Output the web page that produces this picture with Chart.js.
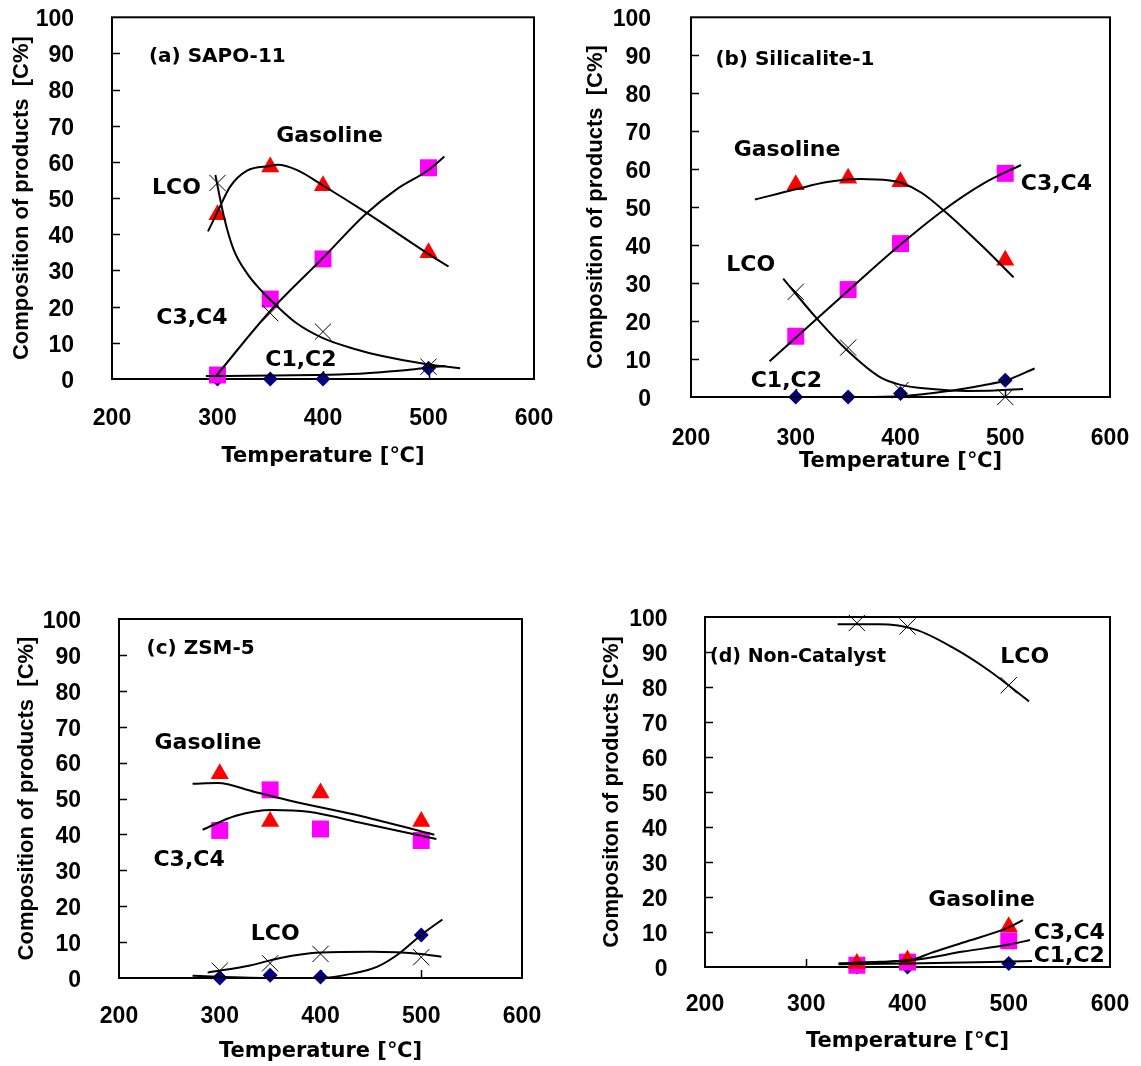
<!DOCTYPE html>
<html>
<head>
<meta charset="utf-8">
<script src="https://cdn.jsdelivr.net/npm/chart.js@4.4.1/dist/chart.umd.min.js"></script>
<style>
  html, body { margin: 0; padding: 0; background: #fff; }
  body { width: 1141px; height: 1066px; position: relative; overflow: hidden; }
  canvas { position: absolute; }
</style>
</head>
<body>
<canvas id="chartA" width="570" height="500" style="left:0;top:0"></canvas>
<canvas id="chartB" width="571" height="500" style="left:570px;top:0"></canvas>
<canvas id="chartC" width="570" height="486" style="left:0;top:580px"></canvas>
<canvas id="chartD" width="571" height="486" style="left:570px;top:580px"></canvas>
<script>
// temperatures of the runs
const temps = [300, 350, 400, 500];
const tempsNoCat = [350, 400, 500];

// (a) SAPO-11
const aGasoline = [45.4, 58.6, 53.4, 34.9];
const aC3C4 = [1.1, 22.1, 33.2, 58.4];
const aLCO = [54.2, 18.2, 13.1, 3.4];
const aC1C2 = [0, 0, 0, 3.0];
const aGasolineFit = [[291, 40.8], [300, 46.2], [312, 53.2], [328, 57.6], [350, 58.9], [357, 59.2], [375, 57.8], [400, 53.5], [440, 46.2], [502, 34.2], [519, 31.1]];
const aC3C4Fit = [[298, 0.6], [350, 18.8], [400, 33.5], [440, 45.5], [470, 52.5], [500, 57.8], [515, 61.5]];
const aLCOFit = [[298, 56.4], [306, 45], [315, 36], [328, 29.2], [341, 24.6], [355, 20.5], [375, 15.4], [400, 11.3], [430, 8.3], [455, 6.4], [500, 4], [530, 3]];
const aC1C2Fit = [[289, 0.8], [350, 1.0], [420, 1.3], [455, 1.9], [480, 2.5], [500, 3.2], [516, 3.6]];

// (b) Silicalite-1
const bGasoline = [55.9, 57.6, 56.7, 36.0];
const bC3C4 = [16.0, 28.3, 40.4, 58.9];
const bLCO = [27.7, 13.0, 1.8, 0];
const bC1C2 = [0, 0, 0.9, 4.4];
const bGasolineFit = [[261, 52], [300, 54.7], [330, 56.6], [362, 57.4], [390, 57], [400, 56.5], [420, 53.8], [441, 49.2], [479, 39.5], [508, 31.5]];
const bC3C4Fit = [[275, 9.4], [300, 15.6], [350, 28], [395, 39], [441, 49.2], [479, 56.2], [515, 61.1]];
const bLCOFit = [[288, 31.2], [320, 20.7], [349, 12.3], [380, 5.3], [400, 3.2], [430, 2.1], [463, 1.6], [490, 1.7], [517, 2.1]];
const bC1C2Fit = [[274, 0], [350, 0], [400, 0.2], [447, 1.6], [479, 3.1], [501, 4.4], [528, 7.5]];

// (c) ZSM-5
const cGasoline = [56.9, 43.6, 51.5, 43.6];
const cC3C4 = [41.1, 52.4, 41.5, 38.3];
const cLCO = [2.0, 4.1, 6.7, 5.8];
const cC1C2 = [0, 0.8, 0.3, 12.0];
const cGasolineFit = [[273, 54.1], [298, 54.3], [334, 51.9], [370, 49.4], [442, 45], [513, 39.9]];
const cC3C4Fit = [[283, 41.3], [316, 45.2], [352, 46.8], [388, 46.3], [442, 43.1], [515, 38.7]];
const cLCOFit = [[288, 1.5], [330, 3.5], [360, 5.6], [400, 7.1], [450, 7.3], [500, 6.7], [520, 5.9]];
const cC1C2Fit = [[273, 0.6], [330, 0.1], [400, 0], [433, 1.3], [456, 3.1], [476, 6.4], [500, 12], [521, 16.3]];

// (d) Non-Catalyst
const dGasoline = [1.0, 2.0, 11.5];
const dC3C4 = [0.5, 1.4, 7.5];
const dLCO = [98.3, 97.3, 80.5];
const dC1C2 = [0, 0, 1.0];
const dGasolineFit = [[332, 1.0], [373, 1.5], [406, 2.2], [422, 3.9], [455, 7.0], [500, 11.3], [514, 13.4]];
const dC3C4Fit = [[332, 1.0], [406, 2.0], [455, 4.4], [500, 6.4], [521, 7.7]];
const dLCOFit = [[331, 97.9], [372, 97.9], [408, 96.4], [444, 91.4], [480, 84.8], [520, 75.9]];
const dC1C2Fit = [[332, 0.8], [400, 1.0], [523, 1.7]];

Chart.defaults.color = "#000";
Chart.defaults.animation = false;

const TICK_FONT = { family: "'Liberation Sans', Arial, sans-serif", size: 23, weight: "bold" };
const YTITLE_FONT = { family: "'Liberation Sans', Arial, sans-serif", size: 22, weight: "bold" };
const XTITLE_FONT = { family: "'DejaVu Sans', 'Noto Sans CJK JP', sans-serif", size: 21, weight: "bold" };

// frame, inward ticks and the text labels inside the plot
const framePlugin = {
  id: "frame",
  beforeDatasetsDraw(chart) {
    const { ctx, chartArea: a, scales: { x, y } } = chart;
    ctx.save();
    ctx.strokeStyle = "#000";
    ctx.lineWidth = 1.5;
    ctx.beginPath();
    for (let v = 10; v < 100; v += 10) {
      const py = Math.round(y.getPixelForValue(v)) + 0.5;
      ctx.moveTo(a.left, py);
      ctx.lineTo(a.left + 8, py);
    }
    for (const v of [300, 400, 500]) {
      const px = Math.round(x.getPixelForValue(v)) + 0.5;
      ctx.moveTo(px, a.bottom);
      ctx.lineTo(px, a.bottom - 8);
    }
    ctx.stroke();
    ctx.lineWidth = 2;
    ctx.strokeRect(a.left, a.top, a.right - a.left, a.bottom - a.top);
    ctx.restore();
  },
  afterDatasetsDraw(chart, args, opts) {
    const { ctx, scales: { x, y } } = chart;
    ctx.save();
    ctx.fillStyle = "#000";
    ctx.textBaseline = "middle";
    ctx.textAlign = "left";
    for (const n of opts.notes || []) {
      ctx.font = `bold ${n.size}px 'DejaVu Sans', sans-serif`;
      ctx.fillText(n.text, x.getPixelForValue(n.x), y.getPixelForValue(n.y));
    }
    ctx.restore();
  }
};

function pts(xs, ys) {
  return xs.map((t, i) => ({ x: t, y: ys[i] }));
}

function fitLine(pairs) {
  return {
    data: pairs.map(([x, y]) => ({ x, y })),
    showLine: true,
    pointRadius: 0,
    borderColor: "#000",
    borderWidth: 2,
    tension: 0.4,
    cubicInterpolationMode: "monotone",
    fill: false,
    clip: false
  };
}

function makePanel(id, s) {
  const markers = [
    { label: "LCO", data: pts(s.temps, s.lco), pointStyle: "crossRot", pointRadius: 11.5,
      borderColor: "#000", backgroundColor: "#000", borderWidth: 1 },
    { label: "Gasoline", data: pts(s.temps, s.gas), pointStyle: "triangle", pointRadius: 10.5,
      borderColor: "#FF0000", backgroundColor: "#FF0000", borderWidth: 0 },
    { label: "C3,C4", data: pts(s.temps, s.c34), pointStyle: "rect", pointRadius: 12,
      borderColor: "#FF00FF", backgroundColor: "#FF00FF", borderWidth: 0 },
    { label: "C1,C2", data: pts(s.temps, s.c12), pointStyle: "rectRot", pointRadius: 7.5,
      borderColor: "#000080", backgroundColor: "#000080", borderWidth: 0 }
  ].map((d) => ({ ...d, showLine: false, clip: false, pointHoverRadius: d.pointRadius }));

  const fits = s.fits.map(fitLine);

  new Chart(document.getElementById(id), {
    type: "scatter",
    data: { datasets: [...fits, ...markers] },
    options: {
      responsive: false,
      events: [],
      layout: { padding: s.pad },
      plugins: {
        legend: { display: false },
        tooltip: { enabled: false },
        frame: { notes: s.notes }
      },
      scales: {
        x: {
          type: "linear", min: 200, max: 600,
          ticks: { stepSize: 100, font: TICK_FONT, padding: s.xTickPad, maxRotation: 0 },
          grid: { display: false },
          border: { display: false },
          title: { display: true, text: "Temperature [℃]", font: XTITLE_FONT, padding: 0 },
          afterFit: (sc) => {
            sc.height = s.xHeight;
            sc.paddingLeft = 0;
            sc.paddingRight = 0;
          }
        },
        y: {
          type: "linear", min: 0, max: 100,
          ticks: { stepSize: 10, font: TICK_FONT, padding: s.yTickPad, labelOffset: 2.5 },
          grid: { display: false },
          border: { display: false },
          title: { display: true, text: s.yTitle, font: YTITLE_FONT, padding: 0 },
          afterFit: (sc) => {
            sc.width = s.yWidth;
            sc.paddingTop = 0;
            sc.paddingBottom = 0;
          }
        }
      }
    },
    plugins: [framePlugin]
  });
}

makePanel("chartA", {
  temps, gas: aGasoline, c34: aC3C4, lco: aLCO, c12: aC1C2,
  fits: [aGasolineFit, aC3C4Fit, aLCOFit, aC1C2Fit],
  pad: { left: 8.8, top: 17.3, right: 36, bottom: 30.4 },
  yWidth: 103.2, xHeight: 90.6, yTickPad: 30, xTickPad: 18,
  yTitle: "Composition of products  [C%]",
  notes: [
    { text: "(a) SAPO-11", x: 235, y: 89, size: 20 },
    { text: "Gasoline", x: 355.6, y: 67, size: 22 },
    { text: "LCO", x: 238, y: 52.7, size: 22 },
    { text: "C3,C4", x: 242, y: 16.8, size: 22 },
    { text: "C1,C2", x: 345.3, y: 5.3, size: 22 }
  ]
});

makePanel("chartB", {
  temps, gas: bGasoline, c34: bC3C4, lco: bLCO, c12: bC1C2,
  fits: [bGasolineFit, bC3C4Fit, bLCOFit, bC1C2Fit],
  pad: { left: 12.3, top: 17.3, right: 31, bottom: 25.4 },
  yWidth: 108.7, xHeight: 77.6, yTickPad: 32, xTickPad: 20,
  yTitle: "Composition of products  [C%]",
  notes: [
    { text: "(b) Silicalite-1", x: 223.3, y: 88.8, size: 20 },
    { text: "Gasoline", x: 240.7, y: 65.1, size: 22 },
    { text: "C3,C4", x: 514.8, y: 55.9, size: 22 },
    { text: "LCO", x: 233.7, y: 34.8, size: 22 },
    { text: "C1,C2", x: 257, y: 4.1, size: 22 }
  ]
});

makePanel("chartC", {
  temps, gas: cGasoline, c34: cC3C4, lco: cLCO, c12: cC1C2,
  fits: [cGasolineFit, cC3C4Fit, cLCOFit, cC1C2Fit],
  pad: { left: 13.8, top: 39, right: 48, bottom: 1.4 },
  yWidth: 105.2, xHeight: 86.6, yTickPad: 30, xTickPad: 17.2,
  yTitle: "Composition of products  [C%]",
  notes: [
    { text: "(c) ZSM-5", x: 227.4, y: 91.8, size: 20 },
    { text: "Gasoline", x: 235.3, y: 65.4, size: 22 },
    { text: "C3,C4", x: 234.2, y: 32.9, size: 22 },
    { text: "LCO", x: 330.8, y: 12.1, size: 22 }
  ]
});

makePanel("chartD", {
  temps: tempsNoCat, gas: dGasoline, c34: dC3C4, lco: dLCO, c12: dC1C2,
  fits: [dGasolineFit, dC3C4Fit, dLCOFit, dC1C2Fit],
  pad: { left: 28.8, top: 37, right: 31, bottom: 11.4 },
  yWidth: 106.2, xHeight: 87.6, yTickPad: 29.5, xTickPad: 16.2,
  yTitle: "Compositon of products [C%]",
  notes: [
    { text: "(d) Non-Catalyst", x: 205, y: 88.6, size: 19 },
    { text: "LCO", x: 491.6, y: 88.4, size: 22 },
    { text: "Gasoline", x: 420.5, y: 19.2, size: 22 },
    { text: "C3,C4", x: 524.6, y: 9.5, size: 22 },
    { text: "C1,C2", x: 524.6, y: 3.0, size: 22 }
  ]
});
</script>
</body>
</html>
